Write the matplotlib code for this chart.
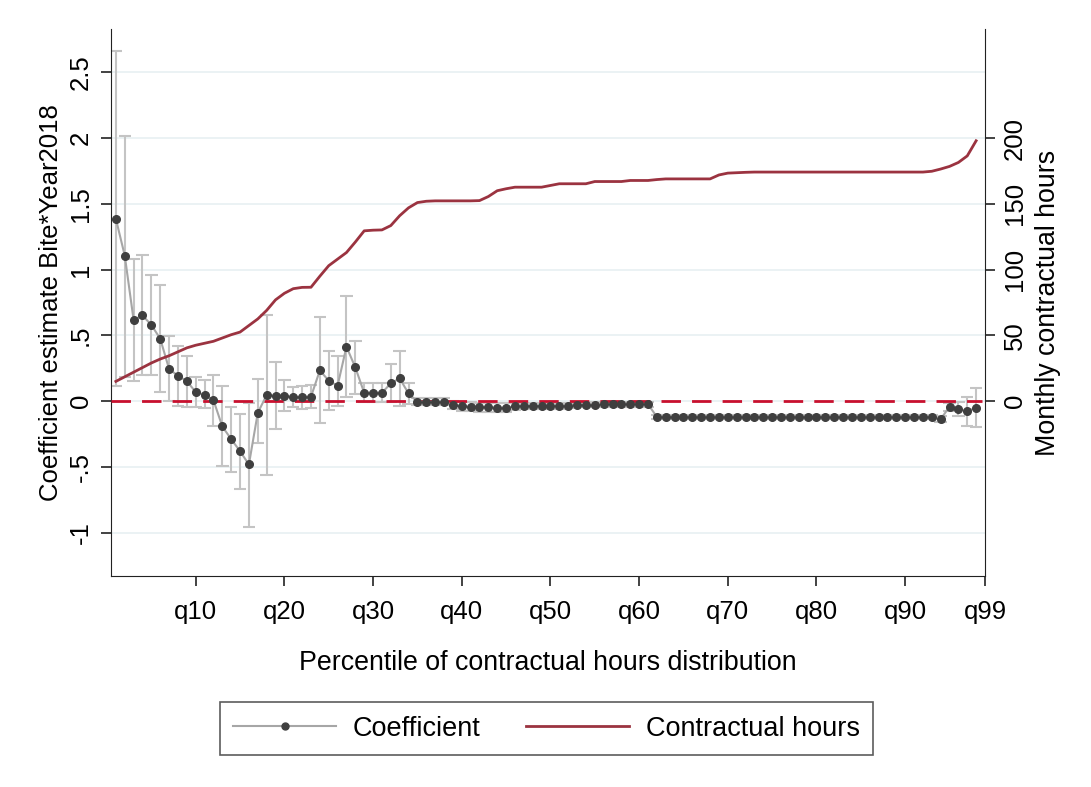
import matplotlib
matplotlib.use("Agg")
import matplotlib.pyplot as plt
from matplotlib.lines import Line2D

plt.rcParams['font.family'] = ['Liberation Sans', 'DejaVu Sans']

# ---- data ----
percentile = list(range(1, 99))

coef = [1.386, 1.107, 0.617, 0.652, 0.579, 0.475, 0.244, 0.193, 0.152, 0.069,
        0.048, 0.008, -0.193, -0.289, -0.381, -0.482, -0.089, 0.046, 0.041, 0.041,
        0.030, 0.030, 0.033, 0.234, 0.155, 0.117, 0.414, 0.256, 0.063, 0.063,
        0.063, 0.135, 0.173, 0.058, -0.005, -0.005, -0.008, -0.008, -0.030, -0.040,
        -0.043, -0.045, -0.048, -0.050, -0.050, -0.040, -0.038, -0.038, -0.038, -0.036,
        -0.036, -0.035, -0.028, -0.027, -0.026, -0.025, -0.025, -0.024, -0.024, -0.023,
        -0.023, -0.120, -0.120, -0.121, -0.120, -0.120, -0.119, -0.119, -0.120, -0.120,
        -0.119, -0.118, -0.119, -0.120, -0.120, -0.120, -0.120, -0.120, -0.120, -0.120,
        -0.120, -0.120, -0.120, -0.120, -0.120, -0.120, -0.120, -0.120, -0.120, -0.120,
        -0.120, -0.120, -0.121, -0.137, -0.043, -0.063, -0.076, -0.051]

ci_low = [0.114, 0.185, 0.155, 0.195, 0.195, 0.066, 0.000, -0.036, -0.043, -0.043,
          -0.056, -0.188, -0.495, -0.538, -0.665, -0.957, -0.322, -0.564, -0.213, -0.075,
          -0.045, -0.058, -0.056, -0.168, -0.069, -0.036, 0.033, 0.051, -0.005, -0.010,
          -0.010, -0.010, -0.036, -0.020, -0.030, -0.030, -0.032, -0.032, -0.060, -0.075,
          -0.078, -0.080, -0.082, -0.085, -0.083, -0.070, -0.062, -0.060, -0.060, -0.058,
          -0.058, -0.056, -0.048, -0.046, -0.045, -0.045, -0.045, -0.044, -0.044, -0.043,
          -0.043, -0.135, -0.135, -0.136, -0.135, -0.135, -0.134, -0.134, -0.135, -0.135,
          -0.134, -0.133, -0.134, -0.135, -0.135, -0.135, -0.135, -0.135, -0.135, -0.135,
          -0.135, -0.135, -0.135, -0.135, -0.135, -0.135, -0.135, -0.135, -0.135, -0.135,
          -0.135, -0.135, -0.137, -0.160, -0.075, -0.110, -0.190, -0.200]

ci_high = [2.660, 2.020, 1.080, 1.110, 0.960, 0.883, 0.495, 0.419, 0.345, 0.185,
           0.160, 0.198, 0.114, -0.043, -0.099, -0.013, 0.165, 0.655, 0.295, 0.160,
           0.109, 0.117, 0.122, 0.637, 0.381, 0.343, 0.802, 0.455, 0.135, 0.140,
           0.140, 0.279, 0.383, 0.140, 0.025, 0.022, 0.020, 0.020, 0.000, -0.008,
           -0.010, -0.012, -0.014, -0.016, -0.016, -0.012, -0.014, -0.016, -0.016, -0.014,
           -0.014, -0.014, -0.008, -0.008, -0.007, -0.006, -0.006, -0.005, -0.005, -0.004,
           -0.004, -0.105, -0.105, -0.106, -0.105, -0.105, -0.104, -0.104, -0.105, -0.105,
           -0.104, -0.103, -0.104, -0.105, -0.105, -0.105, -0.105, -0.105, -0.105, -0.105,
           -0.105, -0.105, -0.105, -0.105, -0.105, -0.105, -0.105, -0.105, -0.105, -0.105,
           -0.105, -0.105, -0.106, -0.115, -0.015, -0.010, 0.035, 0.100]

hours = [15.0, 18.5, 22.0, 25.5, 29.0, 32.0, 34.5, 37.5, 40.5, 42.5,
         44.0, 45.5, 48.0, 50.5, 52.5, 57.5, 62.5, 69.0, 77.0, 82.0,
         85.5, 86.5, 86.6, 95.0, 103.0, 108.0, 113.0, 121.0, 129.5, 130.0,
         130.2, 133.5, 141.0, 147.0, 151.0, 152.0, 152.3, 152.3, 152.3, 152.3,
         152.3, 152.5, 155.6, 160.0, 161.5, 162.7, 162.7, 162.7, 162.7, 164.0,
         165.3, 165.3, 165.3, 165.3, 167.0, 167.0, 167.0, 167.0, 167.8, 167.8,
         167.8, 168.5, 169.0, 169.0, 169.0, 169.0, 169.0, 169.0, 172.0, 173.4,
         173.7, 174.0, 174.2, 174.2, 174.2, 174.2, 174.2, 174.2, 174.2, 174.2,
         174.2, 174.2, 174.2, 174.2, 174.2, 174.2, 174.2, 174.2, 174.2, 174.2,
         174.2, 174.2, 174.8, 176.5, 178.5, 181.5, 186.5, 198.0]

xtick_pos = [10, 20, 30, 40, 50, 60, 70, 80, 90, 99]
xtick_labels = ['q10', 'q20', 'q30', 'q40', 'q50', 'q60', 'q70', 'q80', 'q90', 'q99']
ytick_left = [-1, -0.5, 0, 0.5, 1, 1.5, 2, 2.5]
ytick_left_labels = ['-1', '-.5', '0', '.5', '1', '1.5', '2', '2.5']
ytick_right = [0, 50, 100, 150, 200]
ytick_right_labels = ['0', '50', '100', '150', '200']

# ---- figure ----
W, H = 1091, 787
fig = plt.figure(figsize=(W / 100, H / 100), dpi=100)
ax = fig.add_axes([111 / W, 1 - 576 / H, (985 - 111) / W, (576 - 29) / H])
ax2 = ax.twinx()

ylo, yhi = -1.33, 2.83
ax.set_ylim(ylo, yhi)
ax2.set_ylim(ylo * 100, yhi * 100)
ax.set_xlim(0.45, 99.0)

grid_c = '#e8f0f2'
for v in ytick_left:
    ax.axhline(v, color=grid_c, lw=1.2, zorder=0)

err_c = '#c4c4c4'
cap = 0.7
ax.vlines(percentile, ci_low, ci_high, color=err_c, lw=1.5, zorder=2)
ax.hlines(ci_low, [p - cap for p in percentile], [p + cap for p in percentile],
          color=err_c, lw=1.5, zorder=2)
ax.hlines(ci_high, [p - cap for p in percentile], [p + cap for p in percentile],
          color=err_c, lw=1.5, zorder=2)

ax.axhline(0, color='#c8102e', lw=2.0, dashes=(7, 4), zorder=3, xmax=0.996)

ax.plot(percentile, coef, color='#a6a6a6', lw=1.5, zorder=4)
ax.plot(percentile, coef, ls='none', marker='o', ms=5.5, mfc='#3f3f3f',
        mec='#3f3f3f', zorder=5)

ax2.plot(percentile, hours, color='#9b3340', lw=2.0, zorder=6)

# spines
for a in (ax, ax2):
    a.spines['top'].set_visible(False)
ax.spines['left'].set_color('#222222')
ax.spines['bottom'].set_color('#222222')
ax2.spines['right'].set_color('#222222')
ax2.spines['left'].set_visible(False)
ax2.spines['bottom'].set_visible(False)
ax.spines['right'].set_visible(False)

fs = 18.5
tfs = 19.3
ax.set_xticks(xtick_pos)
ax.set_xticklabels(xtick_labels, fontsize=fs)
ax.set_yticks(ytick_left)
ax.set_yticklabels(ytick_left_labels, fontsize=fs, rotation=90, va='center')
ax2.set_yticks(ytick_right)
ax2.set_yticklabels(ytick_right_labels, fontsize=fs, rotation=90, va='center')
ax.tick_params(axis='x', length=7, width=1.2, pad=10, colors='#222222', labelcolor='black')
ax.tick_params(axis='y', length=7, width=1.2, pad=6, colors='#222222', labelcolor='black')
ax2.tick_params(axis='y', length=7, width=1.2, pad=6, colors='#222222', labelcolor='black')

ax.set_xlabel('Percentile of contractual hours distribution', fontsize=tfs, labelpad=19)
ax.set_ylabel('Coefficient estimate Bite*Year2018', fontsize=fs, labelpad=4)
ax2.set_ylabel('Monthly contractual hours', fontsize=tfs, labelpad=6)

handles = [
    Line2D([], [], color='#a6a6a6', lw=1.5, marker='o', ms=5, mfc='#3f3f3f', mec='#3f3f3f'),
    Line2D([], [], color='#9b3340', lw=2.0),
]
leg = fig.legend(handles, ['Coefficient', 'Contractual hours'], loc='center',
                 bbox_to_anchor=(546.5 / W, 1 - 728.5 / H), ncol=2, fontsize=19.5,
                 frameon=True, fancybox=False, edgecolor='#333333', handlelength=3.8,
                 handletextpad=0.6, columnspacing=1.7, borderpad=0.5, numpoints=1,
                 borderaxespad=0)
leg.get_frame().set_linewidth(1.2)

fig.savefig('out.png', dpi=100, facecolor='white')
